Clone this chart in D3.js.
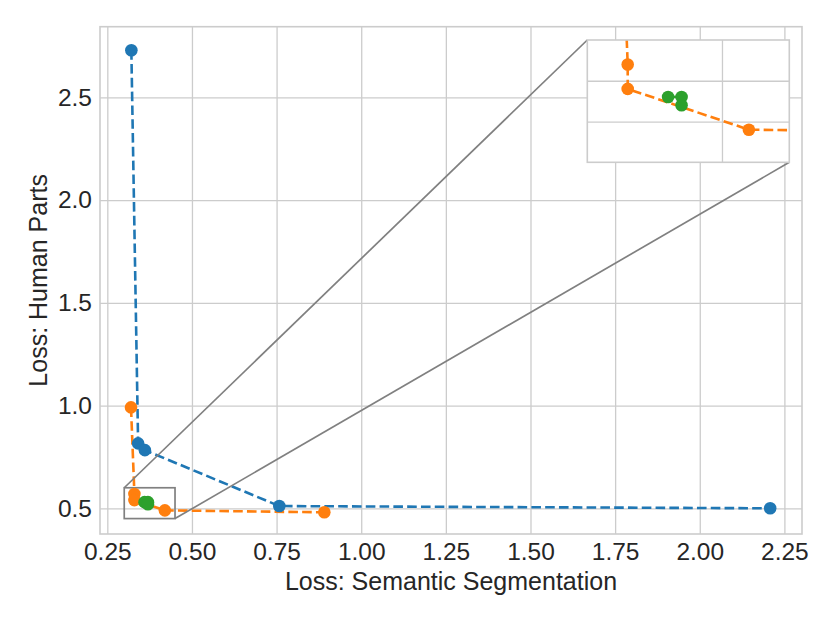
<!DOCTYPE html>
<html>
<head>
<meta charset="utf-8">
<script src="https://cdn.jsdelivr.net/npm/d3@7"></script>
<style>
  body { margin: 0; background: #fff; }
  svg { display: block; font-family: "Liberation Sans", Arial, sans-serif; }
</style>
</head>
<body>
<svg id="fig" width="830" height="623"></svg>
<script>
// series: [semantic segmentation loss, human parts loss]
const blueSeries = [[0.321, 2.729], [0.341, 0.816], [0.361, 0.783], [0.758, 0.511], [2.208, 0.500]];
const orangeSeries = [[0.320, 0.991], [0.330, 0.570], [0.330, 0.540], [0.420, 0.490], [0.891, 0.4805]];
const greenSeries = [[0.360, 0.530], [0.370, 0.530], [0.370, 0.520]];
const seriesColors = ["#1f77b4", "#ff7f0e", "#2ca02c"];

const xTicks = [0.25, 0.50, 0.75, 1.00, 1.25, 1.50, 1.75, 2.00, 2.25];
const xTickLabels = ["0.25", "0.50", "0.75", "1.00", "1.25", "1.50", "1.75", "2.00", "2.25"];
const yTicks = [0.5, 1.0, 1.5, 2.0, 2.5];
const yTickLabels = ["0.5", "1.0", "1.5", "2.0", "2.5"];

const xLabel = "Loss: Semantic Segmentation";
const yLabel = "Loss: Human Parts";

// zoomed region and inset ticks
const zoomX = [0.30, 0.45];
const zoomY = [0.45, 0.60];
const insetXTicks = [0.40];
const insetYTicks = [0.50, 0.55];

const allSeries = [blueSeries, orangeSeries, greenSeries];

const svg = d3.select("#fig");
const plotLeft = 100, plotRight = 802, plotTop = 26.7, plotBottom = 534;

const x = d3.scaleLinear().domain([0.2284, 2.302]).range([plotLeft, plotRight]);
const y = d3.scaleLinear().domain([0.375, 2.8436]).range([plotBottom, plotTop]);

const gridColor = "#cccccc";
const textColor = "#262626";

// grid
svg.append("g")
    .attr("transform", `translate(0,${plotBottom})`)
    .call(d3.axisBottom(x).tickValues(xTicks).tickFormat((d, i) => xTickLabels[i])
        .tickSizeInner(-(plotBottom - plotTop)).tickSizeOuter(0).tickPadding(9))
    .call(g => g.select(".domain").remove())
    .call(g => g.selectAll("line").attr("stroke", gridColor).attr("stroke-width", 1.3))
    .call(g => g.selectAll("text").attr("fill", textColor).attr("font-size", "24.5px")
        .attr("dy", "0.71em"));

svg.append("g")
    .attr("transform", `translate(${plotLeft},0)`)
    .call(d3.axisLeft(y).tickValues(yTicks).tickFormat((d, i) => yTickLabels[i])
        .tickSizeInner(-(plotRight - plotLeft)).tickSizeOuter(0).tickPadding(8))
    .call(g => g.select(".domain").remove())
    .call(g => g.selectAll("line").attr("stroke", gridColor).attr("stroke-width", 1.3))
    .call(g => g.selectAll("text").attr("fill", textColor).attr("font-size", "24.5px"));

// frame
svg.append("rect")
    .attr("x", plotLeft).attr("y", plotTop)
    .attr("width", plotRight - plotLeft).attr("height", plotBottom - plotTop)
    .attr("fill", "none").attr("stroke", gridColor).attr("stroke-width", 1.6);

// axis labels
svg.append("text")
    .attr("x", (plotLeft + plotRight) / 2).attr("y", 590)
    .attr("text-anchor", "middle").attr("fill", textColor).attr("font-size", "25px")
    .text(xLabel);

svg.append("text")
    .attr("transform", `translate(46.5,${(plotTop + plotBottom) / 2}) rotate(-90)`)
    .attr("text-anchor", "middle").attr("fill", textColor).attr("font-size", "25px")
    .text(yLabel);

function drawSeries(g, xs, ys) {
    const line = d3.line().x(d => xs(d[0])).y(d => ys(d[1]));
    allSeries.forEach((s, i) => {
        g.append("path")
            .attr("d", line(s))
            .attr("fill", "none")
            .attr("stroke", seriesColors[i])
            .attr("stroke-width", 2.6)
            .attr("stroke-dasharray", "9.6,4.2");
    });
}

function drawMarkers(g, xs, ys) {
    allSeries.forEach((s, i) => {
        g.selectAll(null).data(s).join("circle")
            .attr("cx", d => xs(d[0]))
            .attr("cy", d => ys(d[1]))
            .attr("r", 6.3)
            .attr("fill", seriesColors[i]);
    });
}

const mainG = svg.append("g");
drawSeries(mainG, x, y);

// inset axes
const insetLeft = 587.3, insetRight = 789.3, insetTop = 40, insetBottom = 162.3;
const xi = d3.scaleLinear().domain(zoomX).range([insetLeft, insetRight]);
const yi = d3.scaleLinear().domain(zoomY).range([insetBottom, insetTop]);

// zoom box and connectors
const markColor = "#808080";
svg.append("rect")
    .attr("x", x(zoomX[0])).attr("y", y(zoomY[1]))
    .attr("width", x(zoomX[1]) - x(zoomX[0]))
    .attr("height", y(zoomY[0]) - y(zoomY[1]))
    .attr("fill", "none").attr("stroke", markColor).attr("stroke-width", 1.7);

svg.append("line")
    .attr("x1", x(zoomX[0])).attr("y1", y(zoomY[1]))
    .attr("x2", xi(zoomX[0])).attr("y2", yi(zoomY[1]))
    .attr("stroke", markColor).attr("stroke-width", 1.7);
svg.append("line")
    .attr("x1", x(zoomX[1])).attr("y1", y(zoomY[0]))
    .attr("x2", xi(zoomX[1])).attr("y2", yi(zoomY[0]))
    .attr("stroke", markColor).attr("stroke-width", 1.7);

const markerG = svg.append("g");
drawMarkers(markerG, x, y);

const defs = svg.append("defs");
defs.append("clipPath").attr("id", "insetClip")
    .append("rect")
    .attr("x", insetLeft).attr("y", insetTop)
    .attr("width", insetRight - insetLeft).attr("height", insetBottom - insetTop);

const inset = svg.append("g");
inset.append("rect")
    .attr("x", insetLeft).attr("y", insetTop)
    .attr("width", insetRight - insetLeft).attr("height", insetBottom - insetTop)
    .attr("fill", "#fff");

inset.append("g")
    .attr("transform", `translate(0,${insetBottom})`)
    .call(d3.axisBottom(xi).tickValues(insetXTicks).tickFormat("")
        .tickSizeInner(-(insetBottom - insetTop)).tickSizeOuter(0))
    .call(g => g.select(".domain").remove())
    .call(g => g.selectAll("line").attr("stroke", gridColor).attr("stroke-width", 1.3));

inset.append("g")
    .attr("transform", `translate(${insetLeft},0)`)
    .call(d3.axisLeft(yi).tickValues(insetYTicks).tickFormat("")
        .tickSizeInner(-(insetRight - insetLeft)).tickSizeOuter(0))
    .call(g => g.select(".domain").remove())
    .call(g => g.selectAll("line").attr("stroke", gridColor).attr("stroke-width", 1.3));

const insetData = inset.append("g").attr("clip-path", "url(#insetClip)");
drawSeries(insetData, xi, yi);
drawMarkers(insetData, xi, yi);

inset.append("rect")
    .attr("x", insetLeft).attr("y", insetTop)
    .attr("width", insetRight - insetLeft).attr("height", insetBottom - insetTop)
    .attr("fill", "none").attr("stroke", gridColor).attr("stroke-width", 1.6);
</script>
</body>
</html>
